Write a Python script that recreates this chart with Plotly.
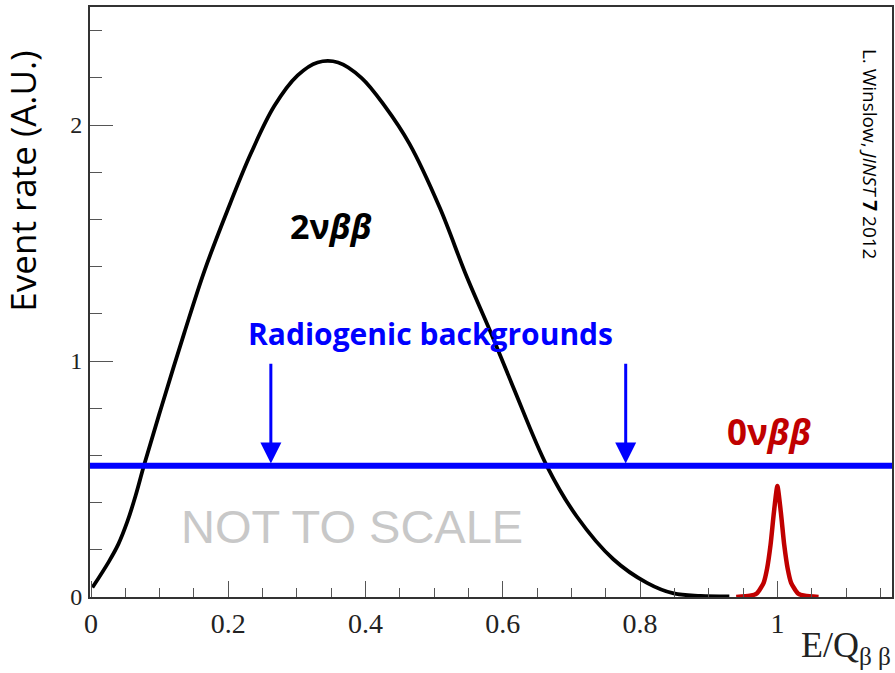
import plotly.graph_objects as go

# 2vbb continuum
x_2nu = [0.002, 0.026, 0.040, 0.053, 0.065, 0.077, 0.102, 0.136, 0.165, 0.199, 0.233, 0.267,
         0.301, 0.330, 0.360, 0.394, 0.428, 0.464, 0.508, 0.547, 0.581, 0.615, 0.664, 0.708,
         0.761, 0.810, 0.849, 0.888, 0.93]
y_2nu = [0.04, 0.15, 0.225, 0.32, 0.43, 0.556, 0.80, 1.12, 1.38, 1.64, 1.88, 2.08,
         2.21, 2.265, 2.265, 2.20, 2.08, 1.92, 1.65, 1.36, 1.13, 0.89, 0.556, 0.34,
         0.16, 0.06, 0.015, 0.005, 0.003]

# 0vbb peak
x_0nu = [0.94, 0.96, 0.97, 0.98, 0.985, 0.99, 0.995, 1.0, 1.005, 1.01, 1.015, 1.02, 1.03, 1.04, 1.06]
y_0nu = [0.0, 0.005, 0.015, 0.06, 0.12, 0.22, 0.36, 0.47, 0.36, 0.22, 0.12, 0.06, 0.015, 0.005, 0.0]

# radiogenic background level
bkg_level = 0.556
bkg_x = [-0.01, 1.17]
arrow_x = [0.262, 0.779]
arrow_top = 0.995

x_ticks = [0, 0.2, 0.4, 0.6, 0.8, 1]
x_tick_text = ["0", "0.2", "0.4", "0.6", "0.8", "1"]
y_ticks = [0, 1, 2]
y_tick_text = ["0", "1", "2"]

fig = go.Figure()
fig.add_trace(go.Scatter(x=x_2nu, y=y_2nu, mode="lines",
                         line=dict(color="black", width=3.8, shape="spline", smoothing=1.0),
                         hoverinfo="skip"))
fig.add_trace(go.Scatter(x=x_0nu, y=y_0nu, mode="lines",
                         line=dict(color="#c00000", width=4.5, shape="spline", smoothing=0.6),
                         hoverinfo="skip"))
fig.add_trace(go.Scatter(x=bkg_x, y=[bkg_level, bkg_level], mode="lines",
                         line=dict(color="#0000ff", width=6), hoverinfo="skip"))

annotations = []
for ax in arrow_x:
    annotations.append(dict(x=ax, y=bkg_level + 0.01, ax=ax, ay=arrow_top,
                            xref="x", yref="y", axref="x", ayref="y",
                            showarrow=True, arrowhead=2, arrowsize=1.4, arrowwidth=3,
                            arrowcolor="#0000ff", text=""))

annotations += [
    dict(x=0.495, y=1.115, xref="x", yref="y", showarrow=False,
         xanchor="center", yanchor="middle",
         text="<b>Radiogenic backgrounds</b>",
         font=dict(family="Open Sans", size=30, color="#0000ff")),
    dict(x=0.35, y=1.57, xref="x", yref="y", showarrow=False,
         xanchor="center", yanchor="middle",
         text="<b>2ν<i>ββ</i></b>",
         font=dict(family="Open Sans", size=34, color="black")),
    dict(x=0.988, y=0.70, xref="x", yref="y", showarrow=False,
         xanchor="center", yanchor="middle",
         text="<b>0ν<i>ββ</i></b>",
         font=dict(family="Open Sans", size=35, color="#c00000")),
    dict(x=0.38, y=0.30, xref="x", yref="y", showarrow=False,
         xanchor="center", yanchor="middle",
         text="NOT TO SCALE",
         font=dict(family="Liberation Sans", size=47, color="#c8c8c8")),
    dict(x=-0.0835, y=0.704, xref="paper", yref="paper", showarrow=False,
         xanchor="center", yanchor="middle",
         text="Event rate (A.U.)", textangle=-90,
         font=dict(family="Open Sans", size=35, color="black")),
    dict(x=0.9726, y=0.751, xref="paper", yref="paper", showarrow=False,
         xanchor="center", yanchor="middle",
         text="L. Winslow, <i>JINST</i> <b>7</b> 2012", textangle=90,
         font=dict(family="Open Sans", size=19, color="black")),
    dict(x=1.001, y=-0.0435, xref="paper", yref="paper", showarrow=False,
         xanchor="right", yanchor="top",
         text="E/Q<sub>β β</sub>",
         font=dict(family="Liberation Serif", size=36, color="#222")),
]

axis_common = dict(ticks="inside", tickwidth=1.3, tickcolor="#555",
                   showgrid=False, zeroline=False, showline=True, linecolor="#333",
                   linewidth=2, mirror=True, automargin=False)

fig.update_layout(
    width=895, height=673,
    margin=dict(l=90, r=3, t=7, b=76),
    paper_bgcolor="white", plot_bgcolor="white",
    showlegend=False,
    annotations=annotations,
    xaxis=dict(range=[-0.0015, 1.167], tickvals=x_ticks, ticktext=x_tick_text, ticklen=16,
               minor=dict(dtick=0.05, tick0=0, ticks="inside", ticklen=9, tickcolor="#555", tickwidth=1.3),
               tickfont=dict(family="Liberation Serif", size=28, color="#222"),
               **axis_common),
    yaxis=dict(range=[0, 2.5], tickvals=y_ticks, ticktext=y_tick_text, ticklen=23,
               ticklabelstandoff=1,
               minor=dict(dtick=0.2, tick0=0, ticks="inside", ticklen=12, tickcolor="#555", tickwidth=1.3),
               tickfont=dict(family="Liberation Serif", size=24, color="#222"),
               **axis_common),
)

fig.write_html("out.html", config={"displayModeBar": False},
               post_script="document.body.style.margin='0';")
